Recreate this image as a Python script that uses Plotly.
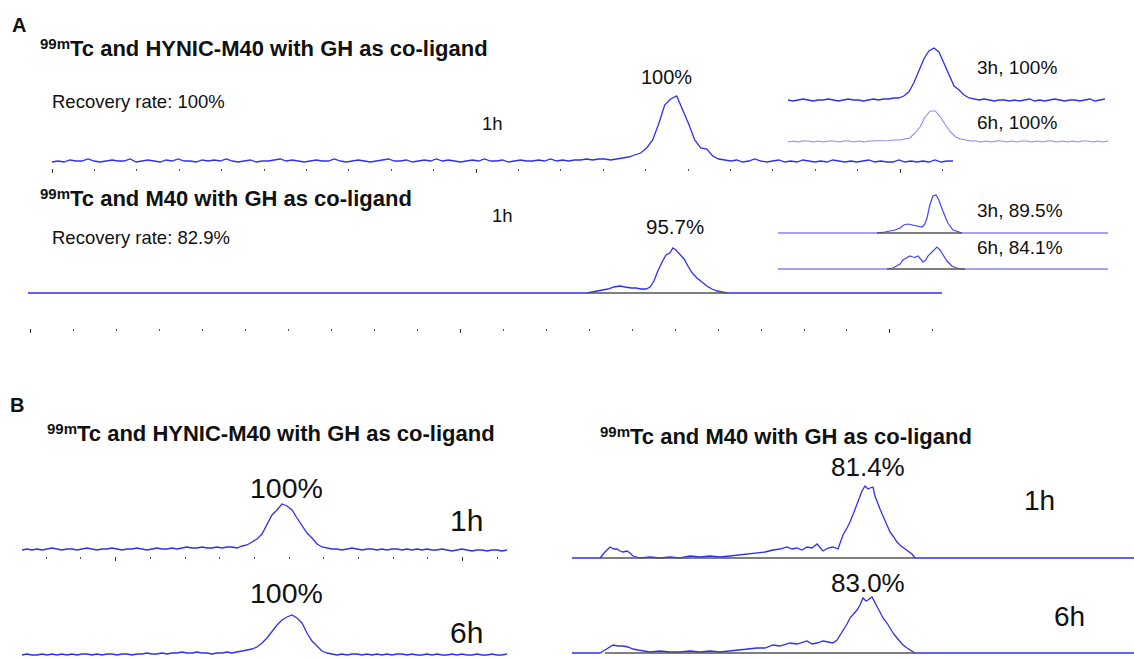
import numpy as np
import plotly.graph_objects as go

W, H = 1134, 658

# ======================= DATA =======================
# ---- Panel A, 99mTc + HYNIC-M40 (GH co-ligand), 1 h; time in min ----
a1_span = (0.0, 21.25)
a1_counts = [0,1,0,2,1,1,3,1,0,1,
             2,1,1,3,0,1,2,1,0,2,
             1,3,1,1,0,2,1,2,1,3,
             1,0,1,2,0,1,1,2,3,1,
             2,1,0,1,2,1,1,3,1,0,
             1,2,1,0,1,2,3,1,1,2,
             0,1,2,1,3,1,2,1,0,1,
             2,1,3,1,1,2,0,1,2,1,
             1,2,1,3,1,2,1,2,2,3,
             2,3,
             3,2,3,4,5,7,9,14,22,38,57,63,66,52,38,22,14,13,6,3,2,
             1,2,0,1,3,1,0,1,2,0,
             1,0,2,1,0,1,0,2,1,0,
             1,0,1,2,0,1,0,0,2,0,
             1,0,1,0,2,0,1,1]
a1_major_ticks = [0, 10, 20]
a1_minor_ticks = [1,2,3,4,5,6,7,8,9,11,12,13,14,15,16,17,18,19,21]

# HYNIC-M40 insets (3 h, 6 h)
h3_span = (10.0, 20.23)
h3_counts = [1,0,1,2,1,0,1,1,2,1, 0,1,2,1,1,0,1,2,1,2,
             2,3,3,5,9,18,30,42,50,53,49,38,26,15,11,6,3,2,
             1,2,1,0,1,1,0,1,0,1, 2,0,1,0,1,2,1,0,1,1, 0,1,2,0,1,2]
h6_span = (10.0, 20.32)
h6_counts = [0,1,0,1,1,0,1,0,1,1, 0,1,1,0,1,0,1,1,1,1,
             1.5,2,2,3,4,9,15,25,31,31,25,17,10,5,3,2,
             1,1,0,1,0,1,1,0,1,0, 1,1,0,1,0,1,1,0,1,0, 1,0,1,1,0,1,0,1]

# ---- Panel A, 99mTc + M40 (GH co-ligand), 1 h ----
a2_time = [-0.05, 12.95, 13.07, 13.19, 13.33, 13.44, 13.58, 13.72, 13.84, 13.98,
           14.09, 14.21, 14.33, 14.42, 14.51, 14.60, 14.70, 14.79, 14.88, 14.95,
           15.02, 15.12, 15.21, 15.30, 15.40, 15.51, 15.63, 15.74, 15.86, 15.98,
           16.09, 16.21, 21.21]
a2_counts = [0, 0, 1, 2, 3, 4, 6, 7, 6, 5,
             5, 4, 4, 6, 12, 22, 31, 38, 40, 45,
             43, 38, 34, 27, 20, 15, 11, 7, 4, 2,
             1, 0, 0]
a2_integration = (12.95, 16.21)
a2_major_ticks = [0, 10, 20]
a2_minor_ticks = [1,2,3,4,5,6,7,8,9,11,12,13,14,15,16,17,18,19,21]

# M40 insets (3 h, 6 h)
m3_time = [10.00, 13.19, 13.45, 13.61, 13.77, 13.94, 14.06, 14.19, 14.35, 14.52, 14.65,
           14.74, 14.81, 14.90, 15.00, 15.10, 15.19, 15.32, 15.48, 15.65, 15.81, 15.94, 20.65]
m3_counts = [0, 0, 1, 2, 3, 5, 8, 9, 8, 7, 6,
             9, 15, 28, 37, 38, 33, 22, 10, 3, 1, 0, 0]
m3_integration = (13.19, 15.94)
m6_time = [10.00, 13.52, 13.71, 13.84, 13.94, 14.03, 14.16, 14.26, 14.35, 14.42, 14.52,
           14.61, 14.68, 14.77, 14.84, 14.94, 15.00, 15.06, 15.13, 15.23, 15.29,
           15.39, 15.45, 15.55, 15.61, 15.77, 15.94, 20.65]
m6_counts = [0, 0, 1, 3, 5, 9, 11, 13, 12, 11.7, 13,
             10, 7, 9, 13, 16, 18, 20, 22, 19, 16,
             11, 8, 5, 3, 1, 0, 0]
m6_integration = (13.52, 16.03)

# ---- Panel B, HYNIC-M40 (1 h, 6 h); time in min ----
b_left_span = (7.30, 21.28)
b1_counts = [0,1,0,1,0,1,2,1,0,1,
             1,0,1,2,1,0,1,1,2,1,
             0,1,1,2,1,0,1,2,1,1,
             2,1,2,3,2,2,3,2,2,3,
             2,3,3,2,4,5,
             8,11,16,25,35,40,46,44,40,32,24,17,12,6,3,2,
             1,1,0,1,2,1,0,1,1,0, 1,0,1,1,0,1,0,1,0,1,
             0,0,1,0,-1,0,1,0,-1,0, 0,-1,0,0,-1,0]
b2_counts = [0,1,0,0,1,0,1,0,1,0,
             1,0,1,1,0,1,0,1,1,0,
             1,1,0,1,1,2,1,1,2,1,
             2,2,3,2,2,3,2,2,1,2,
             2,3,2,3,4,5,6,8,
             12,17,24,30,35,38,40,37,32,22,14,9,4,2,
             1,0,1,0,1,1,0,1,0,1, 0,1,0,1,1,0,1,0,0,1,
             0,1,0,0,1,0,1,0,0,1, 0,0,1,0,0,1]
b1_major_ticks = [10, 20]
b1_minor_ticks = [8,9,11,12,13,14,15,16,17,18,19,21]

# ---- Panel B, M40 (1 h, 6 h); time in s ----
b3_time = [300, 356, 366, 376, 384, 390, 396, 402, 410, 416, 422, 428, 436, 456, 476, 496,
           516, 536, 556, 576, 596, 616, 636, 652, 670, 686, 702, 716, 730, 740, 750, 760,
           770, 780, 790, 796, 802, 812, 822, 832, 842, 850, 856, 864, 870, 876, 880, 886,
           892, 896, 902, 906, 910, 916, 922, 930, 936, 942, 950, 958, 966, 974, 980, 986, 1424]
b3_counts = [0, 0, 6, 11, 9, 9, 7, 6, 7, 5, 2, 1, 0, 1, 0, 1,
             0, 2, 1, 2, 1, 2, 3, 4, 5, 6, 8, 9, 11, 9, 10, 8,
             11, 10, 14, 10, 7, 10, 11, 9, 23, 30, 36, 46, 54, 62, 67, 72,
             69, 70, 71, 62, 56, 49, 42, 33, 26, 22, 16, 12, 9, 6, 4, 0, 0]
b3_integration = (356, 986)
b4_time = [300, 356, 366, 376, 382, 392, 402, 412, 422, 432, 442, 456, 476, 496, 516, 536,
           556, 576, 596, 616, 636, 652, 670, 686, 702, 716, 736, 750, 762, 770, 780, 790,
           802, 812, 822, 830, 842, 850, 856, 864, 870, 876, 882, 888, 892, 900, 906, 910,
           916, 922, 930, 936, 942, 950, 956, 962, 970, 976, 986, 1424]
b4_counts = [0, 0, 3, 6, 8, 7, 7, 6, 4, 3, 2, 1, 2, 1, 1, 2,
             1, 2, 1, 2, 3, 4, 5, 5, 8, 7, 10, 9, 11, 12, 9, 10,
             12, 11, 10, 13, 22, 29, 35, 40, 43, 48, 55, 52, 53, 56, 50, 47,
             41, 35, 30, 25, 20, 15, 11, 8, 5, 3, 0, 0]
b4_integration = (366, 986)

# ======================= FIGURE =======================
BLUE = "#2f2ff0"
LIGHT = "#8a8af2"
GREY = "#555555"
FONT = "Liberation Sans, Arial, sans-serif"

fig = go.Figure()
axes = {}
counter = [1]


def panel(t, y, px0, px1, base, top, bottom, color=BLUE, width=1.3,
          integ=None, major=None, minor=None):
    counter[0] += 1
    k = counter[0]
    xref, yref = f"x{k}", f"y{k}"
    fig.add_trace(go.Scatter(x=t, y=y, mode="lines", line=dict(color=color, width=width),
                             xaxis=xref, yaxis=yref, hoverinfo="skip", showlegend=False))
    if integ is not None:
        fig.add_trace(go.Scatter(x=list(integ), y=[0, 0], mode="lines",
                                 line=dict(color=GREY, width=1.3),
                                 xaxis=xref, yaxis=yref, hoverinfo="skip", showlegend=False))
    xa = dict(domain=[px0 / W, px1 / W], range=[min(t), max(t)], anchor=yref,
              showgrid=False, zeroline=False, showline=False, showticklabels=False,
              fixedrange=True)
    if major is not None:
        xa.update(ticks="outside", tickvals=major, ticklen=4, tickwidth=1.2, tickcolor="#333",
                  minor=dict(ticks="outside", tickvals=minor, ticklen=2, tickwidth=1.4,
                             tickcolor="#555"))
    else:
        xa.update(visible=False)
    ya = dict(domain=[1 - bottom / H, 1 - top / H], range=[-(bottom - base), base - top],
              anchor=xref, visible=False, fixedrange=True)
    axes[f"xaxis{k}"] = xa
    axes[f"yaxis{k}"] = ya


# Panel A
panel(np.linspace(*a1_span, len(a1_counts)), a1_counts, 52, 953, 162, 85, 168,
      major=a1_major_ticks, minor=a1_minor_ticks)
panel(np.linspace(*h3_span, len(h3_counts)), h3_counts, 788, 1105, 101, 40, 106)
panel(np.linspace(*h6_span, len(h6_counts)), h6_counts, 788, 1108, 142, 100, 147,
      color=LIGHT, width=1.1)
panel(a2_time, a2_counts, 28, 942, 293, 240, 328, integ=a2_integration,
      major=a2_major_ticks, minor=a2_minor_ticks)
panel(m3_time, m3_counts, 778, 1108, 233, 185, 238, integ=m3_integration, color="#4545f0", width=1.2)
panel(m6_time, m6_counts, 778, 1108, 269, 240, 274, integ=m6_integration, color="#4545f0", width=1.2)

# Panel B
panel(np.linspace(*b_left_span, len(b1_counts)), b1_counts, 22, 507, 550, 495, 556,
      major=b1_major_ticks, minor=b1_minor_ticks)
panel(np.linspace(*b_left_span, len(b2_counts)), b2_counts, 22, 507, 655, 605, 658)
panel(b3_time, b3_counts, 572, 1134, 558, 475, 563, integ=b3_integration)
panel(b4_time, b4_counts, 572, 1134, 653, 585, 658, integ=b4_integration)

annotations = []


def ann(text, x, y, size, anchor="left", bold=False):
    annotations.append(dict(text=text, x=x / W, y=1 - y / H, xref="paper", yref="paper",
                            xanchor=anchor, yanchor="middle", showarrow=False,
                            font=dict(family=FONT, size=size, color="#111",
                                      weight="bold" if bold else "normal")))


def title(main, x, y):
    # "99m" superscript drawn as its own smaller text, then the main title
    ann("99m", x, y - 5, 15, bold=True)
    ann(main, x + 30, y, 22, bold=True)


T1 = "Tc and HYNIC-M40 with GH as co-ligand"
T2 = "Tc and M40 with GH as co-ligand"

ann("A", 10, 25, 20, bold=True)
title(T1, 38, 48)
ann("Recovery rate: 100%", 50, 101, 18.5)
ann("1h", 480, 124, 18.5)
ann("100%", 666, 77, 20, anchor="center")
ann("3h, 100%", 975, 67, 19)
ann("6h, 100%", 975, 122, 19)
title(T2, 38, 198)
ann("1h", 490, 215, 18.5)
ann("Recovery rate: 82.9%", 50, 238, 18.5)
ann("95.7%", 675, 227, 20.5, anchor="center")
ann("3h, 89.5%", 975, 210, 19)
ann("6h, 84.1%", 975, 248, 19)

ann("B", 8, 405, 20, bold=True)
title(T1, 45, 433)
title(T2, 598, 436)
ann("100%", 286, 488, 28.5, anchor="center")
ann("1h", 448, 520, 30)
ann("100%", 286, 593, 28.5, anchor="center")
ann("6h", 448, 632, 30)
ann("81.4%", 868, 467, 26, anchor="center")
ann("1h", 1022, 500, 28)
ann("83.0%", 868, 583, 26, anchor="center")
ann("6h", 1052, 616, 28)

fig.update_layout(width=W, height=H, margin=dict(l=0, r=0, t=0, b=0),
                  paper_bgcolor="white", plot_bgcolor="rgba(0,0,0,0)",
                  showlegend=False, annotations=annotations,
                  xaxis=dict(visible=False), yaxis=dict(visible=False), **axes)

fig.write_html("out.html", config={"displayModeBar": False},
               post_script="document.body.style.margin='0';document.body.style.overflow='hidden';")
